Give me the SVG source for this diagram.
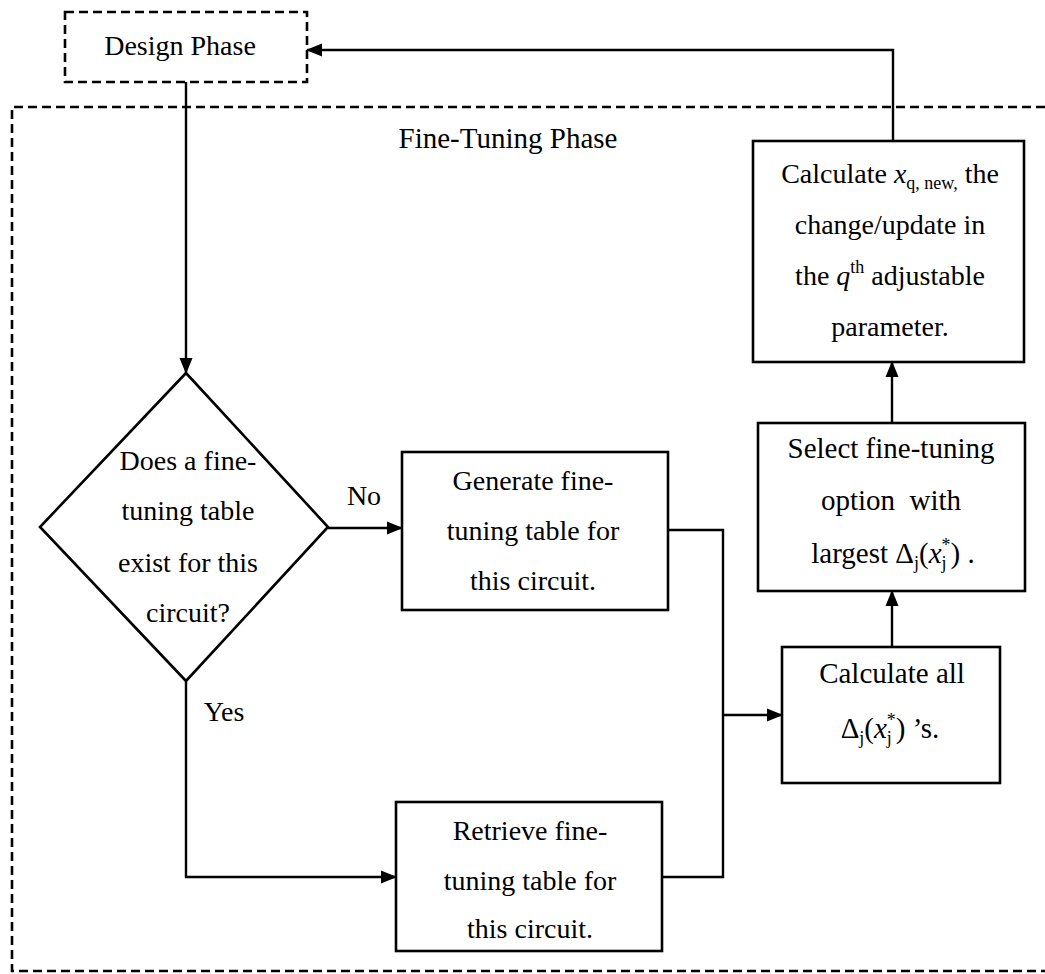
<svg xmlns="http://www.w3.org/2000/svg" width="1045" height="974" viewBox="0 0 1045 974">
<defs>
<marker id="ah" markerUnits="userSpaceOnUse" markerWidth="16" markerHeight="16" viewBox="0 0 16 16" refX="15" refY="8" orient="auto">
<path d="M0,1.5 L16,8 L0,14.5 Z" fill="#000"/>
</marker>
</defs>
<style>
text{font-family:"Liberation Serif","Times New Roman",serif;font-size:28px;fill:#000;text-anchor:middle}
.box{fill:#fff;stroke:#000;stroke-width:2.6}
.dash{fill:none;stroke:#000;stroke-width:2.6;stroke-dasharray:9 5}
.con{fill:none;stroke:#000;stroke-width:2.4}
.it{font-style:italic}
.sub{font-size:18px}
.big{font-size:29px}
</style>
<rect width="1045" height="974" fill="#fff"/>
<g id="fine-tuning-phase">
<path class="dash" d="M1045,107 H12 V971 H1045"/>
<text class="big" x="508" y="148">Fine-Tuning Phase</text>
</g>
<g id="connectors">
<path class="con" d="M186,82 V373" marker-end="url(#ah)"/>
<path class="con" d="M328,528 H402" marker-end="url(#ah)"/>
<path class="con" d="M186,681 V877 H396" marker-end="url(#ah)"/>
<path class="con" d="M668,530 H723 V877 H662"/>
<path class="con" d="M723,715 H782" marker-end="url(#ah)"/>
<path class="con" d="M892,647 V591" marker-end="url(#ah)"/>
<path class="con" d="M892,423 V362" marker-end="url(#ah)"/>
<path class="con" d="M893,141 V50 H307" marker-end="url(#ah)"/>
<text x="364" y="505">No</text>
<text x="224" y="721">Yes</text>
</g>
<g id="design-phase">
<rect class="dash" x="65" y="12" width="242" height="70"/>
<text x="180" y="55">Design Phase</text>
</g>
<g id="decision">
<polygon class="box" points="186,373 328,527 186,681 40,527"/>
<text x="188" y="470">Does a fine-</text>
<text x="188" y="520">tuning table</text>
<text x="188" y="572">exist for this</text>
<text x="188" y="622">circuit?</text>
</g>
<g id="generate">
<rect class="box" x="402" y="452" width="266" height="158"/>
<text x="533" y="490">Generate fine-</text>
<text x="533" y="540">tuning table for</text>
<text x="533" y="590">this circuit.</text>
</g>
<g id="retrieve">
<rect class="box" x="396" y="802" width="266" height="149"/>
<text x="530" y="840">Retrieve fine-</text>
<text x="530" y="890">tuning table for</text>
<text x="530" y="938">this circuit.</text>
</g>
<g id="calculate-all">
<rect class="box" x="782" y="647" width="218" height="136"/>
<text class="big" x="892" y="683">Calculate all</text>
<text class="big" x="890" y="738">Δ<tspan class="sub" dy="6">j</tspan><tspan dy="-6">(</tspan><tspan class="it">x</tspan><tspan class="sub" dy="6">j</tspan><tspan class="sub" dx="-5" dy="-18">*</tspan><tspan dy="12">) ’s.</tspan></text>
</g>
<g id="select">
<rect class="box" x="758" y="423" width="267" height="168"/>
<text class="big" x="891" y="458">Select fine-tuning</text>
<text class="big" x="891" y="510" xml:space="preserve">option  with</text>
<text class="big" x="893" y="563">largest  Δ<tspan class="sub" dy="6">j</tspan><tspan dy="-6">(</tspan><tspan class="it">x</tspan><tspan class="sub" dy="6">j</tspan><tspan class="sub" dx="-5" dy="-18">*</tspan><tspan dy="12">) .</tspan></text>
</g>
<g id="calculate-xq">
<rect class="box" x="753" y="141" width="271" height="221"/>
<text x="890" y="183">Calculate <tspan class="it">x</tspan><tspan class="sub" dy="6">q, new,</tspan><tspan dy="-6"> the</tspan></text>
<text x="890" y="234">change/update in</text>
<text x="890" y="285">the <tspan class="it">q</tspan><tspan class="sub" dy="-12">th</tspan><tspan dy="12"> adjustable</tspan></text>
<text x="890" y="336">parameter.</text>
</g>
</svg>
